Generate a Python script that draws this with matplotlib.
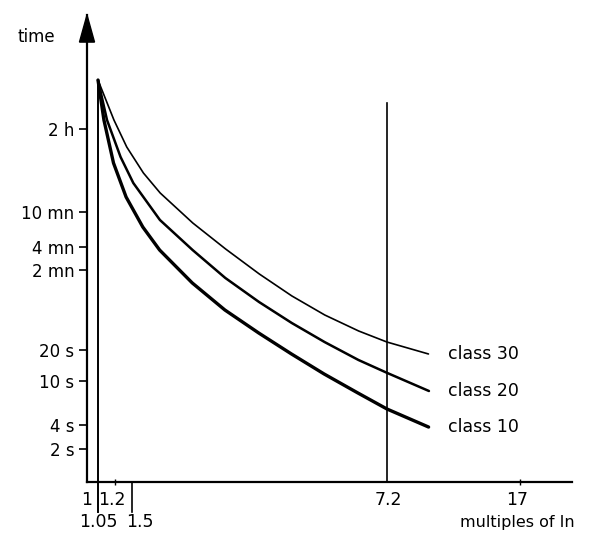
import numpy as np
import matplotlib
matplotlib.use('Agg')
import matplotlib.pyplot as plt
from matplotlib.patches import Polygon

# curves: multiples of In vs tripping time (s)
x_class10 = [1.05, 1.10, 1.186, 1.388, 1.603, 1.778, 2.173, 2.656, 3.269, 4.0, 4.89, 6.02, 7.2, 9.42]
t_class10 = [3.0e4, 9360, 2600, 940, 405, 219, 89.8, 49.0, 29.3, 18.3, 11.7, 7.79, 5.58, 3.77]
x_class20 = [1.05, 1.127, 1.291, 1.512, 1.781, 2.178, 2.663, 3.277, 4.009, 4.905, 6.04, 7.2, 9.44]
t_class20 = [3.0e4, 9360, 3115, 1430, 487, 219, 100.4, 58.6, 36.6, 23.9, 16.0, 12.0, 8.12]
x_class30 = [1.05, 1.19, 1.40, 1.609, 1.784, 2.18, 2.668, 3.283, 4.01, 4.91, 6.05, 7.2, 9.41]
t_class30 = [3.0e4, 9360, 4200, 1930, 1060, 450, 226, 109.7, 67.1, 43.8, 30.6, 23.9, 18.3]
class_names = ['class 10', 'class 20', 'class 30']

y_ticks = [2, 4, 10, 20, 120, 240, 600, 7200]
y_labels = ['2 s', '4 s', '10 s', '20 s', '2 mn', '4 mn', '10 mn', '2 h']
x_marks = [1.2, 17]
x_labels = [(1, '1', 0, 0), (1.2, '1.2', -2, 0), (7.2, '7.2', 1, 0), (17, '17', -2, 0),
            (1.05, '1.05', 0, 1), (1.5, '1.5', 6, 1)]
t_72_top = 1.54e4

# the drawing is schematic: both axes are stretched piecewise (log-like)
X_ANCH = [1, 1.05, 1.2, 1.5, 7.2, 17, 23.8]
X_POS = [0, 11, 28, 45, 300, 433, 485]
Y_ANCH = [0.8, 2, 4, 10, 20, 120, 240, 600, 7200, 2e5]
Y_POS = [0, 33, 57, 101, 132, 212, 235, 270, 353, 467]


def make_scale(vals, pos):
    lv = np.log(vals)

    def fwd(v):
        return np.interp(np.log(np.clip(v, 1e-12, None)), lv, pos)

    def inv(p):
        return np.exp(np.interp(p, pos, lv))
    return fwd, inv


fig = plt.figure(figsize=(5.98, 5.34), dpi=100)
ax = fig.add_axes([87 / 598, 52 / 534, 485 / 598, 467 / 534])
ax.set_xscale('function', functions=make_scale(X_ANCH, X_POS))
ax.set_yscale('function', functions=make_scale(Y_ANCH, Y_POS))
ax.set_xlim(X_ANCH[0], X_ANCH[-1])
ax.set_ylim(Y_ANCH[0], Y_ANCH[-1])

line_kw = dict(color='black', solid_capstyle='round', solid_joinstyle='round')
ax.plot(x_class10, t_class10, lw=2.4, **line_kw)
ax.plot(x_class20, t_class20, lw=1.8, **line_kw)
ax.plot(x_class30, t_class30, lw=1.2, **line_kw)

for xs, ts, name in zip([x_class10, x_class20, x_class30], [t_class10, t_class20, t_class30], class_names):
    ax.annotate(name, (xs[-1], ts[-1]), xytext=(14, 0), textcoords='offset points',
                va='center', ha='left', fontsize=12.5)

# vertical guide lines
ax.plot([1.05, 1.05], [Y_ANCH[0], t_class10[0]], color='black', lw=1.4)
ax.axvline(1.05, ymin=-0.064, ymax=0, color='black', lw=1.4, clip_on=False)
ax.axvline(1.5, ymin=-0.064, ymax=0, color='black', lw=1.2, clip_on=False)
ax.plot([7.2, 7.2], [Y_ANCH[0], t_72_top], color='black', lw=1.2)

for s in ['top', 'right']:
    ax.spines[s].set_visible(False)
ax.spines['left'].set_linewidth(1.6)
ax.spines['bottom'].set_linewidth(1.6)

# arrow head on the time axis
ax.add_patch(Polygon([[0, 1.0], [-0.0155, 0.942], [0.0155, 0.942]], closed=True,
                     transform=ax.transAxes, color='black', clip_on=False))

ax.set_yticks(y_ticks)
ax.set_yticklabels(y_labels)
ax.tick_params(axis='y', direction='out', length=6, width=1.2, pad=3, labelsize=12)
ax.set_xticks(x_marks)
ax.set_xticklabels([])
ax.tick_params(axis='x', direction='inout', length=4, width=1.0)

trans = ax.get_xaxis_transform()
for val, lab, dx, row in x_labels:
    ax.annotate(lab, (val, 0), xycoords=trans, xytext=(dx, -13 if row == 0 else -29),
                textcoords='offset points', ha='center', va='center', fontsize=12.5)

fig.text(36 / 598, 1 - 37 / 534, 'time', ha='center', va='center', fontsize=12)
fig.text(460 / 598, 1 - 523 / 534, 'multiples of In', ha='left', va='center', fontsize=11.5)

fig.savefig('out.png', dpi=100)
